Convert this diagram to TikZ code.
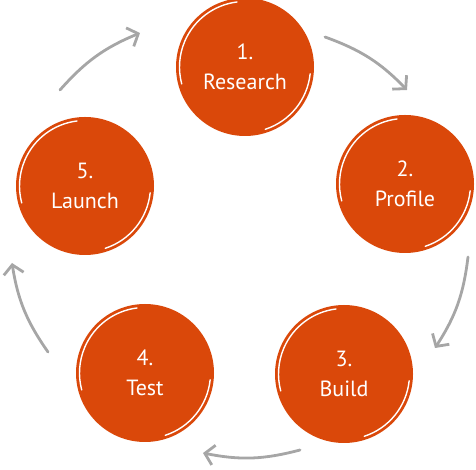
\documentclass[tikz,border=0pt]{standalone}
\usepackage{fontspec}
\setmainfont{PT Sans}
\usetikzlibrary{arrows.meta}
\definecolor{stepred}{RGB}{218,72,10}
\definecolor{loopgray}{RGB}{166,166,166}

\begin{document}
\begin{tikzpicture}[x=1pt,y=1pt,>={Straight Barb[length=9pt,width=20pt]},
  stepnode/.style={circle,fill=stepred,minimum size=138pt,inner sep=0pt,
    text=white,align=center,font=\fontsize{22}{30}\selectfont},
  shine/.style={white,line width=1.4pt,line cap=round},
  flow/.style={loopgray,line width=2.8pt,->,line cap=round}]
\useasboundingbox (0,0) rectangle (476,470);
\node[stepnode] (research) at (245,403) {1.\\Research};
\node[stepnode] (profile) at (405,286) {2.\\Profile};
\node[stepnode] (build) at (344,96) {3.\\Build};
\node[stepnode] (test) at (145,97) {4.\\Test};
\node[stepnode] (launch) at (85,284) {5.\\Launch};
\foreach \n in {research,profile,build,test,launch}{
  \draw[shine] ([shift={(97:65.5)}]\n.center) arc[start angle=97,end angle=195,radius=65.5];
  \draw[shine] ([shift={(-6:65.5)}]\n.center) arc[start angle=-6,end angle=-72,radius=65.5];
}
\coordinate (from1) at (325,433);
\coordinate (to1) at (407,380);
\coordinate (from2) at (468,213);
\coordinate (to2) at (435,122);
\coordinate (from3) at (300,20);
\coordinate (to3) at (203,17);
\coordinate (from4) at (48,118);
\coordinate (to4) at (12,207);
\coordinate (from5) at (60,380);
\coordinate (to5) at (140,437);
\draw[flow] (from1) to[bend left=13] (to1);
\draw[flow] (from2) to[bend left=13] (to2);
\draw[flow] (from3) to[bend left=13] (to3);
\draw[flow] (from4) to[bend left=13] (to4);
\draw[flow] (from5) to[bend left=13] (to5);
\end{tikzpicture}
\end{document}
